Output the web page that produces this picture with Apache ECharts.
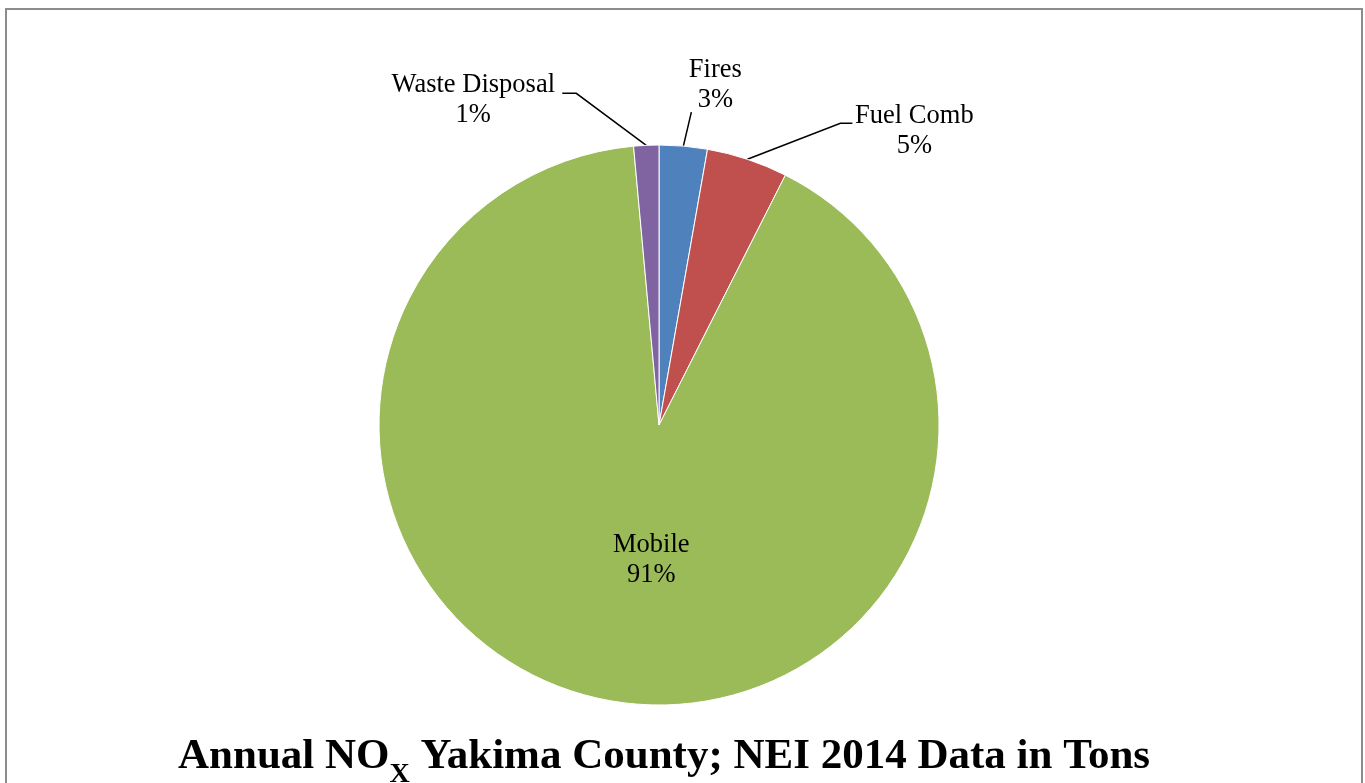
<!DOCTYPE html>
<html>
<head>
<meta charset="utf-8">
<script src="https://cdn.jsdelivr.net/npm/echarts@6/dist/echarts.min.js"></script>
<style>
html,body{margin:0;padding:0;background:#fff;}
#chart{width:1365px;height:783px;}
</style>
</head>
<body>
<div id="chart"></div>
<script>
// Data (percent share of annual NOx)
const CATEGORIES = ['Fires', 'Fuel Comb', 'Mobile', 'Waste Disposal'];
const VALUES = [2.77, 4.68, 91.1, 1.45];
const COLORS = ['#4F81BD', '#C0504D', '#9BBB59', '#8064A2'];

// Label offsets relative to the point where the leader line leaves the slice
const LABEL_OFFSETS = {
  0: { label: [32, -61], line: [[8, -34], [8, -34]] },
  1: { label: [167, -28], line: [[93, -36], [105, -36]] },
  3: { label: [-173, -45], line: [[-70, -52], [-84, -52]] }
};

const chart = echarts.init(document.getElementById('chart'));
const FONT = '"Liberation Serif", "Times New Roman", serif';

const data = CATEGORIES.map((name, i) => {
  const item = { name: name, value: VALUES[i], itemStyle: { color: COLORS[i] } };
  if (name === 'Mobile') {
    item.label = { position: 'inside' };
    item.labelLine = { show: false };
  }
  return item;
});

chart.setOption({
  backgroundColor: '#ffffff',
  animation: false,
  title: {
    text: '{a|Annual NO}{s|X}{a| Yakima County; NEI 2014 Data in Tons}',
    left: 173,
    top: 727,
    textStyle: {
      rich: {
        a: { fontFamily: FONT, fontWeight: 'bold', fontSize: 43, color: '#000', lineHeight: 50 },
        s: { fontFamily: FONT, fontWeight: 'bold', fontSize: 28, color: '#000', lineHeight: 50, verticalAlign: 'bottom', padding: [0, 0, -7, 0] }
      }
    }
  },
  graphic: [{
    type: 'rect',
    shape: { x: 6, y: 9, width: 1356, height: 800 },
    style: { fill: 'none', stroke: '#8c8c8c', lineWidth: 2 },
    silent: true
  }],
  series: [{
    type: 'pie',
    center: ['48.28%', '54.28%'],
    radius: 280,
    startAngle: 90,
    clockwise: true,
    percentPrecision: 0,
    data: data,
    itemStyle: { borderColor: '#ffffff', borderWidth: 1 },
    label: {
      show: true,
      formatter: '{b}\n{d}%',
      fontFamily: FONT,
      fontSize: 26.5,
      lineHeight: 30,
      color: '#000',
      align: 'center'
    },
    labelLine: {
      show: true,
      length: 20,
      length2: 10,
      lineStyle: { color: '#000', width: 1.5 }
    },
    labelLayout: function (p) {
      const r = p.labelRect;
      const pts = p.labelLinePoints;
      const off = LABEL_OFFSETS[p.dataIndex];
      if (!off || !pts) {
        return {
          x: r.x + r.width / 2 + 19,
          y: r.y + r.height / 2 - 5,
          align: 'center',
          verticalAlign: 'middle'
        };
      }
      const o = pts[0];
      return {
        x: o[0] + off.label[0],
        y: o[1] + off.label[1],
        align: 'center',
        verticalAlign: 'middle',
        labelLinePoints: [
          [o[0], o[1]],
          [o[0] + off.line[0][0], o[1] + off.line[0][1]],
          [o[0] + off.line[1][0], o[1] + off.line[1][1]]
        ]
      };
    }
  }]
});
</script>
</body>
</html>
